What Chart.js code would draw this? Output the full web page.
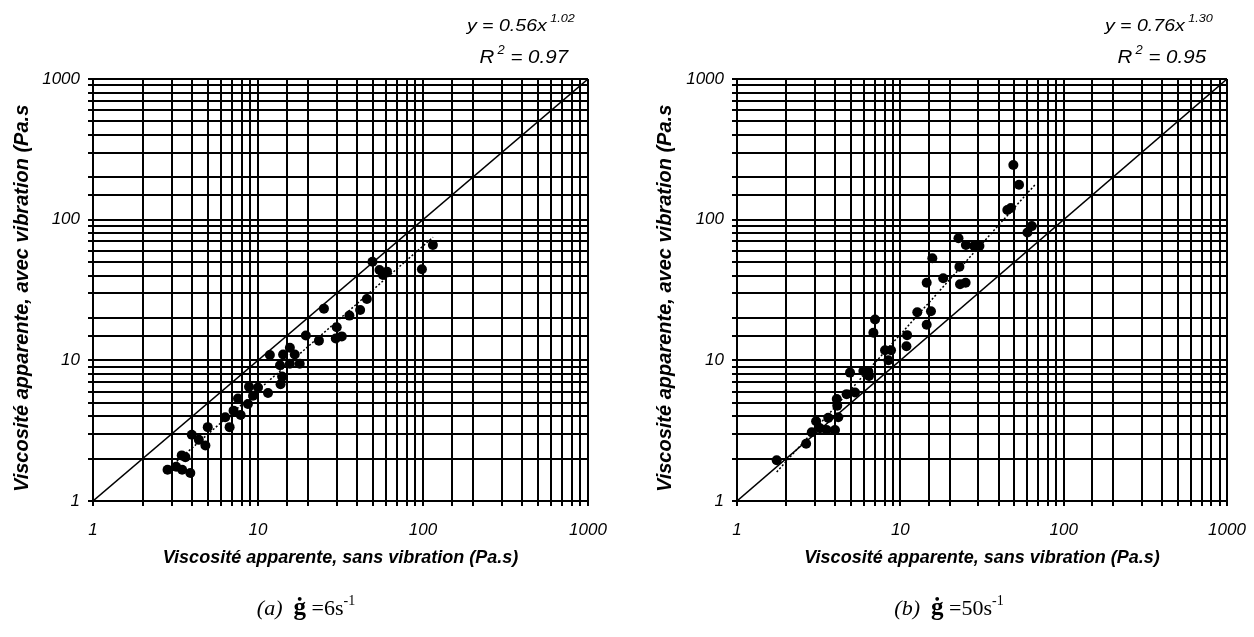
<!DOCTYPE html>
<html>
<head>
<meta charset="utf-8">
<script src="https://cdn.jsdelivr.net/npm/chart.js@4.4.1/dist/chart.umd.min.js"></script>
<style>
  html, body { margin: 0; padding: 0; background: #fff; }
  #wrap { position: relative; width: 1254px; height: 637px; overflow: hidden; background: #fff; }
  canvas { position: absolute; top: 0; }
  .eq { position: absolute; font-family: "Liberation Sans", Arial, sans-serif; font-style: italic; color: #000;
        white-space: nowrap; transform-origin: right center; }
  .eq sup { position: relative; vertical-align: baseline; }
  .cap { position: absolute; width: 300px; text-align: center; font-family: "Liberation Serif", "Times New Roman", serif;
         font-size: 22px; line-height: 26px; color: #000; white-space: nowrap; }
  .cap i { font-style: italic; }
  .cap b { font-size: 25px; }
  .cap sup { font-size: 14px; position: relative; top: -2px; }
</style>
</head>
<body>
<div id="wrap">
  <canvas id="c1" width="611" height="637" style="left:0px"></canvas>
  <canvas id="c2" width="611" height="637" style="left:643px"></canvas>

  <div class="eq" style="right:679px; top:17px; font-size:17px; line-height:17px; transform:scaleX(1.15);">y = 0.56x<sup style="font-size:11px; top:-9px; margin-left:3px;">1.02</sup></div>
  <div class="eq" style="right:686px; top:47px; font-size:19px; line-height:19px; transform:scaleX(1.08);">R<sup style="font-size:12px; top:-9px; margin-left:3px;">2</sup> = 0.97</div>

  <div class="eq" style="right:41px; top:17px; font-size:17px; line-height:17px; transform:scaleX(1.15);">y = 0.76x<sup style="font-size:11px; top:-9px; margin-left:3px;">1.30</sup></div>
  <div class="eq" style="right:48px; top:47px; font-size:19px; line-height:19px; transform:scaleX(1.08);">R<sup style="font-size:12px; top:-9px; margin-left:3px;">2</sup> = 0.95</div>

  <div class="cap" style="left:156px; top:590px;"><i>(a)</i>&nbsp; <b>ġ</b> =6s<sup>-1</sup></div>
  <div class="cap" style="left:799px; top:590px;"><i>(b)</i>&nbsp; <b>ġ</b> =50s<sup>-1</sup></div>
</div>

<script>
// ---------- data ----------
const tickLabels = [1, 10, 100, 1000];
const xTitle = 'Viscosité apparente, sans vibration (Pa.s)';
const yTitle = 'Viscosité apparente, avec vibration (Pa.s';

// (a) shear rate 6 s-1
const leftX = [2.83, 3.19, 3.47, 3.45, 3.63, 3.89, 3.97, 4.38, 4.8, 4.96, 6.33, 6.73, 7.11, 7.85, 7.56, 8.69, 8.82, 9.33, 10.0, 11.5,
               11.8, 13.6, 14.0, 13.7, 14.2, 15.6, 15.6, 16.7, 17.9, 19.5, 23.4, 25.1, 30.0, 29.6, 32.2, 35.8, 41.6, 45.7, 49.4, 54.5,
               57.2, 60.5, 98.5, 114.8];
const leftY = [1.67, 1.75, 1.67, 2.11, 2.05, 1.58, 2.96, 2.72, 2.48, 3.35, 3.94, 3.35, 4.39, 4.09, 5.36, 4.89, 6.48, 5.6, 6.41, 5.85,
               10.9, 9.22, 7.66, 6.77, 11.0, 12.3, 9.46, 11.0, 9.46, 15.0, 13.8, 23.3, 17.2, 14.3, 14.8, 20.8, 22.8, 27.3, 50.2, 43.9,
               40.4, 42.7, 44.4, 66.1];
const leftTrendX = [2.72, 115];
const leftTrendY = [1.61, 75];

// (b) shear rate 50 s-1
const rightX = [1.75, 2.65, 2.87, 3.05, 3.22, 3.54, 3.62, 3.98, 4.08, 4.11, 4.17, 4.69, 4.92, 5.28, 5.94, 6.37, 6.43, 6.84, 7.0, 8.06,
                8.45, 8.77, 10.9, 11.0, 12.7, 14.5, 14.5, 15.4, 15.7, 18.3, 22.7, 23.0, 23.2, 25.1, 25.2, 28.3, 30.5, 45.2, 47.5, 49.2,
                53.3, 60.0, 63.8];
const rightY = [1.95, 2.55, 3.08, 3.69, 3.29, 3.2, 3.9, 3.2, 5.31, 4.76, 3.94, 5.75, 8.18, 5.91, 8.41, 8.32, 7.75, 15.7, 19.5, 11.8,
                10.0, 11.8, 12.6, 15.1, 22.0, 17.9, 35.6, 22.3, 53.1, 38.3, 73.8, 46.3, 34.7, 35.6, 66, 65, 65, 117, 121, 245,
                177, 81, 90];
const rightTrendX = [1.75, 67];
const rightTrendY = [1.61, 178];

// y = x reference line
const diagX = [1, 1000];
const diagY = [1, 1000];

// ---------- chart building ----------
function pairs(xs, ys) { return xs.map((x, i) => ({ x: x, y: ys[i] })); }

function isLabelled(v) {
  return tickLabels.some(t => Math.abs(Math.log10(v) - Math.log10(t)) < 1e-6);
}

function makeChart(id, px, py, tx, ty, axisW, padRight) {
  const tickFont = { family: 'Liberation Sans', style: 'italic', size: 17 };
  const gridOpts = { color: '#000', lineWidth: 2, tickLength: 5, tickColor: '#000', tickWidth: 2, drawTicks: true };
  return new Chart(document.getElementById(id), {
    type: 'scatter',
    data: {
      datasets: [
        { data: pairs(px, py), backgroundColor: '#000', borderWidth: 0, pointRadius: 5, pointStyle: 'circle' },
        { data: pairs(tx, ty), showLine: true, borderColor: '#000', borderWidth: 1.5, borderDash: [2, 2], pointRadius: 0 },
        { data: pairs(diagX, diagY), showLine: true, borderColor: '#000', borderWidth: 1.5, pointRadius: 0 }
      ]
    },
    options: {
      responsive: false,
      animation: false,
      devicePixelRatio: 1,
      events: [],
      layout: { padding: { top: 79, right: padRight, bottom: 36, left: 0 } },
      plugins: { legend: { display: false }, tooltip: { enabled: false } },
      scales: {
        x: {
          type: 'logarithmic', position: 'bottom', min: 1, max: 1000,
          grid: gridOpts,
          border: { display: true, color: '#000', width: 2 },
          ticks: { autoSkip: false, maxRotation: 0, minRotation: 0, color: '#000', font: tickFont, padding: 14,
                   callback: v => isLabelled(v) ? String(Math.round(v)) : '' },
          title: { display: true, text: xTitle, color: '#000',
                   font: { family: 'Liberation Sans', style: 'italic', weight: 'bold', size: 18 },
                   padding: { top: 0, bottom: 32 } },
          afterFit: s => { s.height = 100; s.paddingLeft = 0; s.paddingRight = 0; }
        },
        y: {
          type: 'logarithmic', position: 'left', min: 1, max: 1000,
          grid: gridOpts,
          border: { display: true, color: '#000', width: 2 },
          ticks: { autoSkip: false, color: '#000', font: tickFont, padding: 8,
                   callback: v => isLabelled(v) ? String(Math.round(v)) : '' },
          title: { display: true, text: yTitle + '   ', color: '#000',
                   font: { family: 'Liberation Sans', style: 'italic', weight: 'bold', size: 20 },
                   padding: { top: 10, bottom: 0 } },
          afterFit: s => { s.width = axisW; s.paddingTop = 0; s.paddingBottom = 0; }
        }
      }
    }
  });
}

makeChart('c1', leftX, leftY, leftTrendX, leftTrendY, 93, 23);
makeChart('c2', rightX, rightY, rightTrendX, rightTrendY, 94, 27);
</script>
</body>
</html>
